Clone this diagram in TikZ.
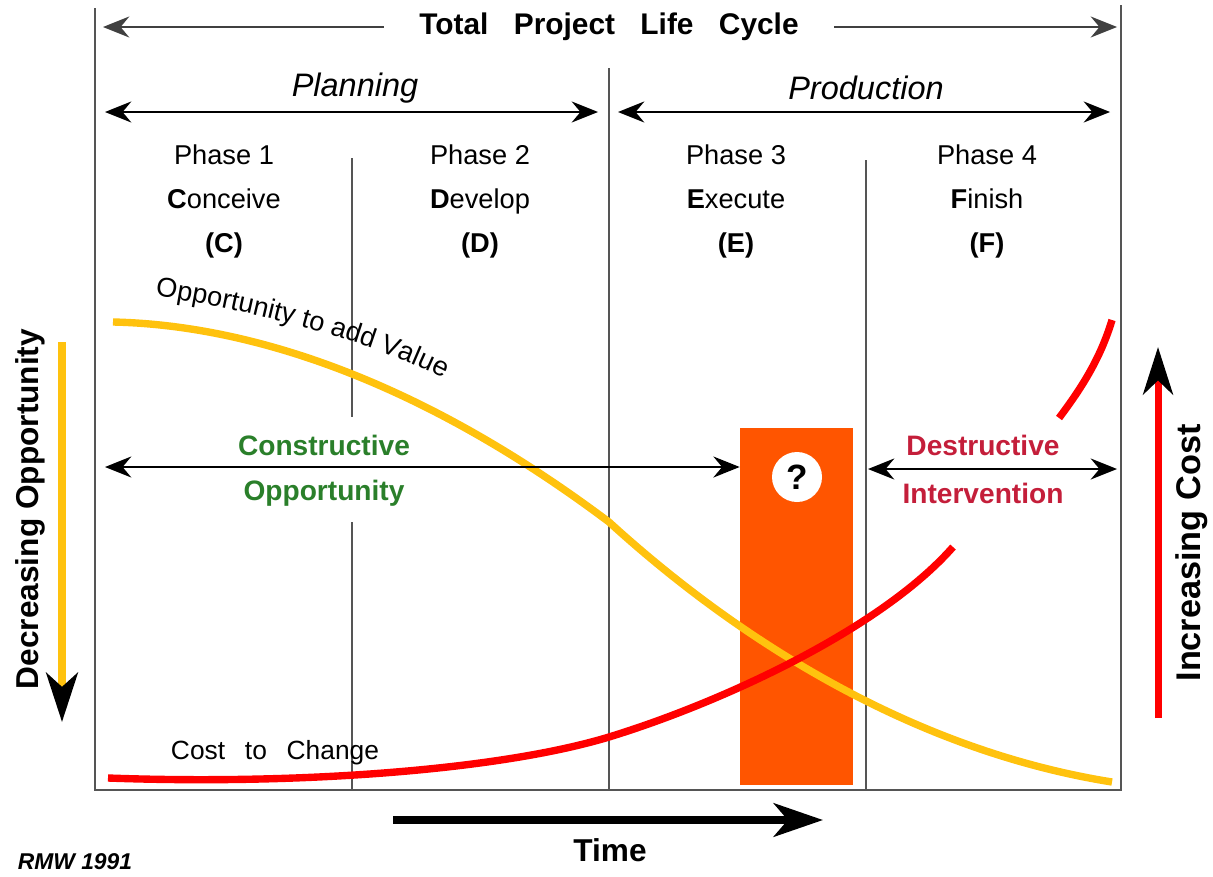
\documentclass[tikz,border=0pt]{standalone}
\usepackage{fontspec}
\setmainfont{Liberation Sans}
\usepackage{xcolor}
\usepackage{tikz}
\usetikzlibrary{arrows.meta,positioning,decorations.text}
\definecolor{optyellow}{HTML}{FFC20E}
\definecolor{costred}{HTML}{FF0000}
\definecolor{barorange}{HTML}{FF5500}
\definecolor{constgreen}{HTML}{2A7F2A}
\definecolor{destred}{HTML}{C41E3A}
\definecolor{framegray}{HTML}{555555}

\begin{document}
\begin{tikzpicture}[x=0.02cm, y=-0.02cm, node distance = 0mm,
  >={Stealth[length=15pt,width=12pt,inset=5pt]},
  rule/.style={draw=framegray, line width=1.3pt},
  span/.style={line width=1.1pt, <->},
  phase/.style={font=\fontsize{15.5}{18}\selectfont, text height=11.5pt, text depth=3.5pt, inner sep=0pt},
  era/.style={font=\fontsize{18.5}{22}\selectfont\itshape},
  lbl/.style={font=\fontsize{16}{19}\selectfont\bfseries},
  side/.style={rotate=90, font=\fontsize{18}{22}\selectfont\bfseries},
  curve/.style={line width=4.2pt}]
\useasboundingbox (0,0) rectangle (1213,876);

\draw[rule] (95,8) -- (95,790) -- (1121,790) -- (1121,5);
\draw[rule] (609,68) -- (609,790);
\draw[rule] (352,158) -- (352,417) (352,522) -- (352,790);
\draw[rule] (866,160) -- (866,790);

\node (cycle) [font=\fontsize{17}{20}\selectfont\bfseries, inner xsep=20pt] at (609,27) {Total\hspace{0.85em}Project\hspace{0.85em}Life\hspace{0.85em}Cycle};
\coordinate (lifeL) at (103,27);
\coordinate (lifeR) at (1117,27);
\draw[->, line width=1pt, black!75] (cycle.west) -- (lifeL);
\draw[->, line width=1pt, black!75] (cycle.east) -- (lifeR);

\node (plan) [era] at (355,88) {Planning};
\node (prod) [era] at (866,88) {Production};
\coordinate (planL) at (105,112);
\coordinate (planR) at (598,112);
\coordinate (prodL) at (618,112);
\coordinate (prodR) at (1110,112);
\draw[span] (planL) -- (planR);
\draw[span] (prodL) -- (prodR);

\node (ph1) [phase] at (224,157) {Phase 1};
\node (nm1) [phase, below=3.4mm of ph1] {{\bfseries C}onceive};
\node (ab1) [phase, below=3.4mm of nm1] {\bfseries (C)};
\node (ph2) [phase] at (480,157) {Phase 2};
\node (nm2) [phase, below=3.4mm of ph2] {{\bfseries D}evelop};
\node (ab2) [phase, below=3.4mm of nm2] {\bfseries (D)};
\node (ph3) [phase] at (736,157) {Phase 3};
\node (nm3) [phase, below=3.4mm of ph3] {{\bfseries E}xecute};
\node (ab3) [phase, below=3.4mm of nm3] {\bfseries (E)};
\node (ph4) [phase] at (987,157) {Phase 4};
\node (nm4) [phase, below=3.4mm of ph4] {{\bfseries F}inish};
\node (ab4) [phase, below=3.4mm of nm4] {\bfseries (F)};

\node (bar) [fill=barorange, minimum width=2.26cm, minimum height=7.14cm, inner sep=0pt] at (796.5,606.5) {};
\node (quest) [circle, fill=white, minimum size=1cm, inner sep=0pt, font=\fontsize{20}{24}\selectfont\bfseries] at (797,477) {?};

\draw[curve, optyellow] (113,322) .. controls (250,325) and (420,380) .. (609,522) .. controls (700,605) and (880,745) .. (1112,782);
\draw[curve, costred] (108,778) .. controls (300,785) and (500,770) .. (609,737) .. controls (720,703) and (880,630) .. (953,547);
\draw[curve, costred] (1059,418) .. controls (1080,390) and (1100,360) .. (1112,320);

\path[decorate, decoration={text along path, text align=center, text={|\fontsize{15.5}{18}\selectfont|Opportunity to add Value}}] (148,295) .. controls (230,306) and (370,338) .. (450,382);
\node (cost) [font=\fontsize{15}{18}\selectfont] at (275,753) {Cost\hspace{0.75em}to\hspace{0.75em}Change};

\node (cons) [lbl, text=constgreen] at (324,445) {Constructive};
\node (copp) [lbl, text=constgreen] at (324,493) {Opportunity};
\coordinate (conL) at (105,467);
\draw[span] (conL) -- (conL -| bar.west);

\node (dest) [lbl, text=destred] at (983,445) {Destructive};
\node (intv) [lbl, text=destred] at (983,493) {Intervention};
\coordinate (desL) at (868,469);
\coordinate (desR) at (1117,469);
\draw[span] (desL) -- (desR);

\node (decr) [side] at (30,509) {Decreasing Opportunity};
\coordinate (decTop) at (62,342);
\coordinate (decBot) at (62,722);
\draw[line width=4.2pt, optyellow, -{Stealth[color=black,length=28pt,width=18pt,inset=8pt]}] (decTop) -- (decBot);

\node (incr) [side, font=\fontsize{19.5}{23}\selectfont\bfseries] at (1192,553) {Increasing Cost};
\coordinate (incBot) at (1158,718);
\coordinate (incTop) at (1158,347);
\draw[line width=4pt, costred, -{Stealth[color=black,length=27pt,width=17pt,inset=8pt]}] (incBot) -- (incTop);

\coordinate (timeS) at (393,820);
\coordinate (timeE) at (823,820);
\draw[line width=4.5pt, -{Stealth[length=28pt,width=19pt,inset=8pt]}] (timeS) -- (timeE);
\node (time) [font=\fontsize{18}{22}\selectfont\bfseries] at (610,850) {Time};

\node (sig) [font=\fontsize{13}{16}\selectfont\bfseries\itshape] at (75,862) {RMW 1991};
\end{tikzpicture}
\end{document}
